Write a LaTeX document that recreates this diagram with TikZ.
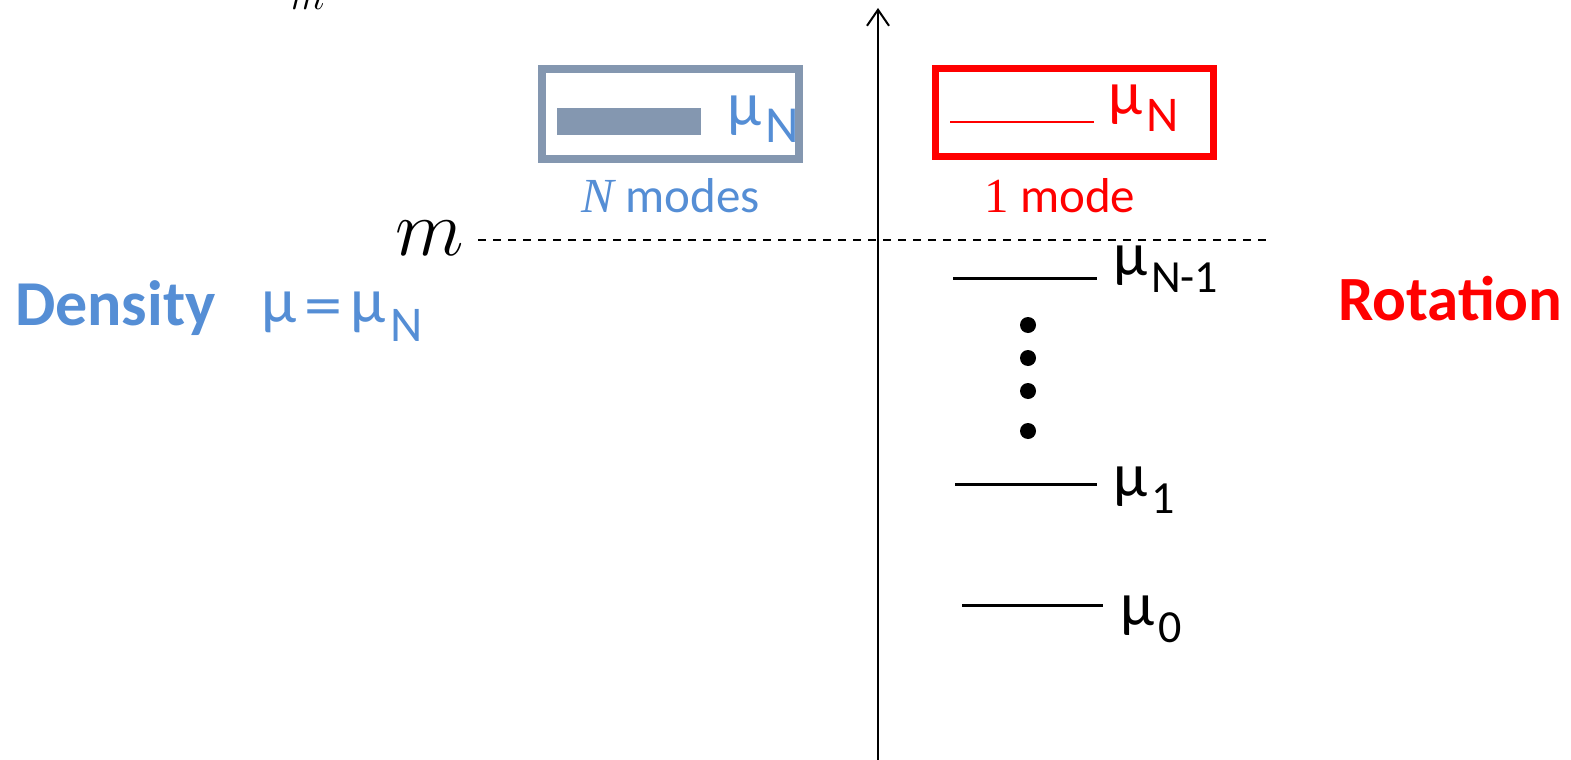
\documentclass[tikz,border=0pt]{standalone}
\usepackage{fix-cm}
\usepackage{fontspec}
\setmainfont{Carlito}
\newfontfamily\seriffont{Liberation Serif}
\newfontfamily\eqfont{DejaVu Sans}
\usetikzlibrary{arrows.meta}
\definecolor{dblue}{RGB}{85,142,213}
\definecolor{gblue}{RGB}{132,151,176}
\definecolor{rred}{RGB}{255,0,0}
\newcommand{\mulab}[2][44]{{\fontsize{62}{62}\selectfont μ}\hspace{4pt}\raisebox{-17pt}{\fontsize{#1}{#1}\selectfont #2}}
\begin{document}
\begin{tikzpicture}[x=1pt,y=-1pt,
  lvl/.style={line width=3pt},
  lab/.style={anchor=base west,inner sep=0pt,outer sep=0pt},
  dotc/.style={fill=black}]
\useasboundingbox (0,0) rectangle (1571,760);
% axis
\coordinate (axb) at (878,760);
\coordinate (axt) at (878,8);
\draw[line width=2pt,-{Straight Barb[length=16pt,width=22pt]}] (axb) -- (axt);
% dashed line
\coordinate (dl) at (478,240);
\coordinate (dr) at (1270,240);
\draw[line width=1.5pt,dash pattern=on 8pt off 7pt] (dl) -- (dr);
% m labels
\node[lab] (mtop) at (290,10) {\fontsize{40}{40}\selectfont $m$};
\node[lab] (mbig) at (395,255) {\fontsize{80}{80}\selectfont $m$};
% blue box
\node[draw=gblue,line width=8pt,minimum width=257pt,minimum height=90pt,inner sep=0pt] (bbox) at (670.5,114) {};
\coordinate (bb1) at (557,108);
\coordinate (bb2) at (701,135);
\fill[gblue] (bb1) rectangle (bb2);
\node[lab,text=dblue] (bmu) at (727,125) {\mulab[52]{N}};
\node[anchor=base,inner sep=0pt,text=dblue] (nmodes) at (671,212) {\fontsize{49}{49}\selectfont{\seriffont\itshape N} modes};
% red box
\node[draw=rred,line width=7pt,minimum width=278pt,minimum height=88pt,inner sep=0pt] (rbox) at (1074.5,112.5) {};
\coordinate (rl1) at (950,122);
\coordinate (rl2) at (1094,122);
\draw[rred,line width=2.5pt] (rl1) -- (rl2);
\node[lab,text=rred] (rmu) at (1108,114) {\mulab[50]{N}};
\node[anchor=base,inner sep=0pt,text=rred] (onemode) at (1060,212) {\fontsize{49}{49}\selectfont{\seriffont 1} mode};
% levels
\coordinate (l3a) at (953,278); \coordinate (l3b) at (1097,278);
\draw[lvl] (l3a) -- (l3b);
\node[lab] (mu3) at (1113,275) {\mulab[46]{N-1}};
\coordinate (l1a) at (955,484); \coordinate (l1b) at (1097,484);
\draw[lvl] (l1a) -- (l1b);
\node[lab] (mu1) at (1113,496) {\mulab[46]{1}};
\coordinate (l0a) at (962,605); \coordinate (l0b) at (1103,605);
\draw[lvl] (l0a) -- (l0b);
\node[lab] (mu0) at (1120,625) {\mulab[46]{0}};
% dots
\foreach \yy in {325,358,391,431} \fill[dotc] (1028,\yy) circle (8pt);
% side labels
\node[lab,text=dblue] (dens) at (15,325) {\fontsize{64}{64}\selectfont\bfseries Density};
\node[lab,text=dblue] (mueq) at (261,322) {\fontsize{64}{64}\selectfont μ\hspace{6pt}{\eqfont\fontsize{50}{50}\selectfont =}\hspace{6pt}μ\hspace{5pt}\raisebox{-19pt}{\fontsize{50}{50}\selectfont N}};
\node[lab,text=rred] (rot) at (1338,320) {\fontsize{63}{63}\selectfont\bfseries Rotation};
\end{tikzpicture}
\end{document}
